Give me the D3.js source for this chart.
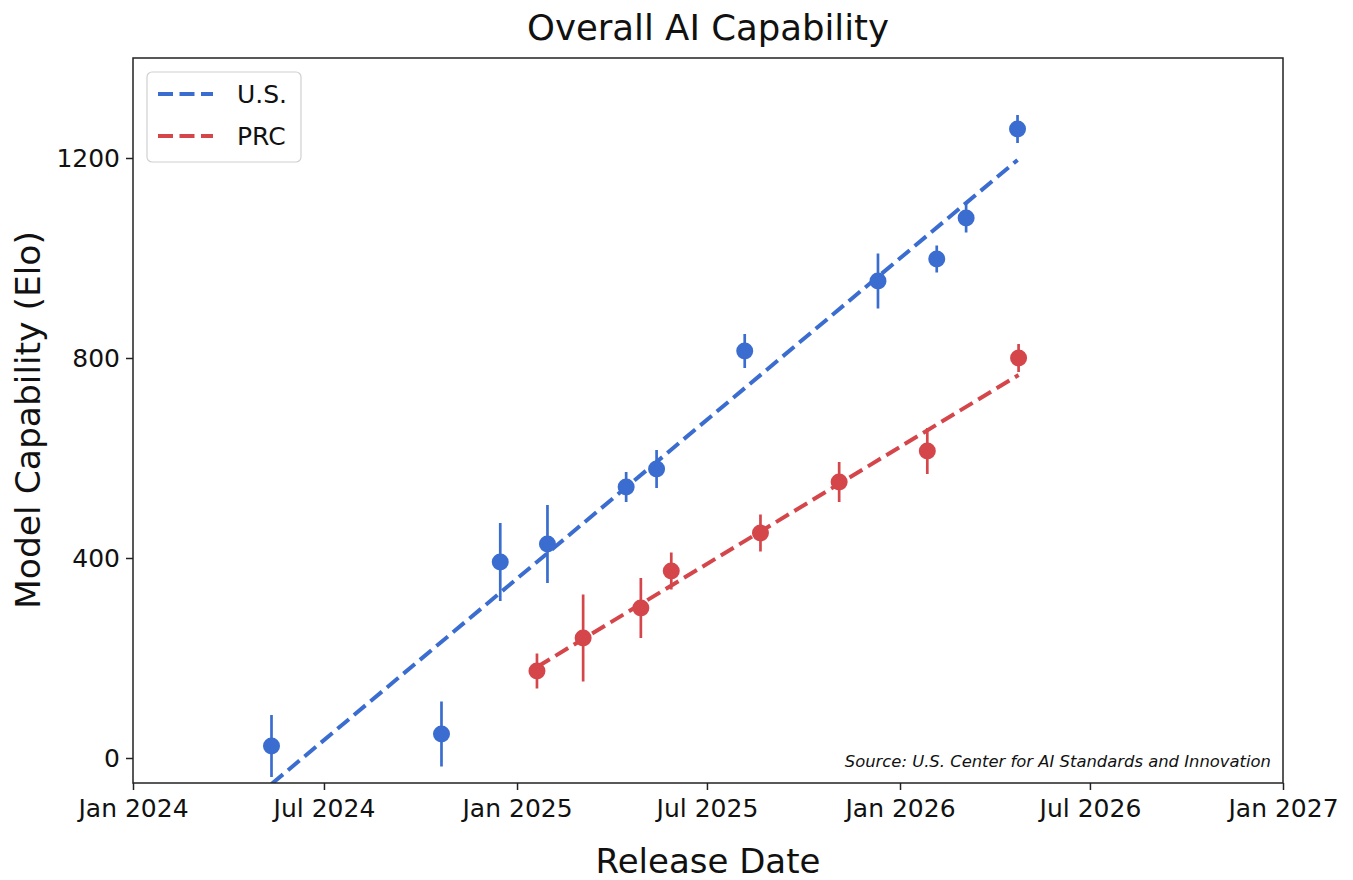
<!DOCTYPE html>
<html>
<head>
<meta charset="utf-8">
<script src="https://cdn.jsdelivr.net/npm/d3@7"></script>
<style>
  html, body { margin: 0; padding: 0; background: #fff; }
  svg { display: block; font-family: "DejaVu Sans", sans-serif; }
</style>
</head>
<body>
<svg id="chart" width="1353" height="880"></svg>
<script>
// U.S. models: release date, Elo estimate, half-width of the uncertainty bar
const usDates  = ["2024-05-12", "2024-10-21", "2024-12-16", "2025-01-30", "2025-04-15", "2025-05-14",
                  "2025-08-06", "2025-12-11", "2026-02-05", "2026-03-05", "2026-04-23"];
const usElo    = [24, 48, 392, 428, 542, 578, 814, 954, 998, 1080, 1258];
const usErr    = [62, 65, 78, 78, 30, 38, 34, 55, 27, 29, 28];

// PRC models
const prcDates = ["2025-01-20", "2025-03-05", "2025-04-29", "2025-05-28", "2025-08-21", "2025-11-04",
                  "2026-01-27", "2026-04-24"];
const prcElo   = [174, 240, 300, 374, 450, 552, 614, 800];
const prcErr   = [35, 87, 60, 37, 37, 40, 46, 28];

// Linear trend endpoints for each series
const usTrendDates  = ["2024-05-12", "2026-04-23"];
const usTrendElo    = [-52, 1196];
const prcTrendDates = ["2025-01-20", "2026-04-24"];
const prcTrendElo   = [182, 766];

// Axis ticks
const xTickDates  = ["2024-01-01", "2024-07-01", "2025-01-01", "2025-07-01", "2026-01-01", "2026-07-01", "2027-01-01"];
const xTickLabels = ["Jan 2024", "Jul 2024", "Jan 2025", "Jul 2025", "Jan 2026", "Jul 2026", "Jan 2027"];
const yTicks      = [0, 400, 800, 1200];

const seriesNames = ["U.S.", "PRC"];
const BLUE = "#3a6dcf";
const RED  = "#d5464b";

const parse = d3.utcParse("%Y-%m-%d");
const margin = { left: 133, right: 70, top: 58, bottom: 97 };
const W = 1353, H = 880;
const iw = W - margin.left - margin.right;
const ih = H - margin.top - margin.bottom;

const svg = d3.select("#chart");

const x = d3.scaleUtc()
  .domain([parse("2024-01-01"), parse("2027-01-01")])
  .range([0, iw]);
const y = d3.scaleLinear()
  .domain([-50, 1400])
  .range([ih, 0]);

const g = svg.append("g").attr("transform", `translate(${margin.left},${margin.top})`);

svg.append("defs").append("clipPath").attr("id", "plotClip")
  .append("rect").attr("width", iw).attr("height", ih);

// Title
svg.append("text")
  .attr("x", 708).attr("y", 40)
  .attr("text-anchor", "middle")
  .attr("font-size", 35.5)
  .attr("fill", "#111")
  .text("Overall AI Capability");

// Axes
const xAxis = d3.axisBottom(x)
  .tickValues(xTickDates.map(parse))
  .tickFormat((d, i) => xTickLabels[i])
  .tickSizeOuter(0).tickSize(7).tickPadding(6);
const yAxis = d3.axisLeft(y)
  .tickValues(yTicks)
  .tickFormat(d3.format("d"))
  .tickSizeOuter(0).tickSize(7).tickPadding(6);

const gx = g.append("g").attr("transform", `translate(0,${ih})`).call(xAxis);
const gy = g.append("g").call(yAxis);
[gx, gy].forEach(a => {
  a.select(".domain").remove();
  a.selectAll(".tick line").attr("stroke", "#222").attr("stroke-width", 1.5);
  a.selectAll(".tick text").attr("font-size", 25).attr("fill", "#111")
    .attr("font-family", "DejaVu Sans, sans-serif");
});
gx.selectAll(".tick text").attr("dy", "0.85em");

// Axis titles
svg.append("text")
  .attr("x", 708).attr("y", 873)
  .attr("text-anchor", "middle")
  .attr("font-size", 34).attr("fill", "#111")
  .text("Release Date");
svg.append("text")
  .attr("transform", "translate(40,420) rotate(-90)")
  .attr("text-anchor", "middle")
  .attr("font-size", 34.5).attr("fill", "#111")
  .text("Model Capability (Elo)");

// Data layer
const plot = g.append("g").attr("clip-path", "url(#plotClip)");

function drawSeries(dates, vals, errs, tDates, tVals, color) {
  const pts = dates.map((d, i) => ({ date: parse(d), v: vals[i], e: errs[i] }));
  const trend = tDates.map((d, i) => ({ date: parse(d), v: tVals[i] }));

  plot.append("g").selectAll("line").data(pts).join("line")
    .attr("x1", d => x(d.date)).attr("x2", d => x(d.date))
    .attr("y1", d => y(d.v - d.e)).attr("y2", d => y(d.v + d.e))
    .attr("stroke", color).attr("stroke-width", 2.7);

  plot.append("path").datum(trend)
    .attr("d", d3.line().x(d => x(d.date)).y(d => y(d.v)))
    .attr("fill", "none").attr("stroke", color)
    .attr("stroke-width", 4).attr("stroke-dasharray", "15,6.5");

  plot.append("g").selectAll("circle").data(pts).join("circle")
    .attr("cx", d => x(d.date)).attr("cy", d => y(d.v))
    .attr("r", 8.5).attr("fill", color);
}

drawSeries(usDates, usElo, usErr, usTrendDates, usTrendElo, BLUE);
drawSeries(prcDates, prcElo, prcErr, prcTrendDates, prcTrendElo, RED);

// Frame
g.append("rect").attr("width", iw).attr("height", ih)
  .attr("fill", "none").attr("stroke", "#222").attr("stroke-width", 1.5);

// Source note
g.append("text")
  .attr("x", iw - 12).attr("y", ih - 16)
  .attr("text-anchor", "end")
  .attr("font-size", 16.4).attr("font-style", "italic").attr("fill", "#111")
  .text("Source: U.S. Center for AI Standards and Innovation");

// Legend
const legend = g.append("g").attr("transform", "translate(14,14)");
legend.append("rect")
  .attr("width", 154).attr("height", 90).attr("rx", 5)
  .attr("fill", "#fff").attr("stroke", "#d0d0d0").attr("stroke-width", 1.2);
[BLUE, RED].forEach((c, i) => {
  const row = legend.append("g").attr("transform", `translate(0,${22 + i * 42})`);
  row.append("line").attr("x1", 11).attr("x2", 66)
    .attr("stroke", c).attr("stroke-width", 4).attr("stroke-dasharray", "15,6.5");
  row.append("text").attr("x", 90).attr("y", 0).attr("dy", "0.35em")
    .attr("font-size", 25).attr("fill", "#111")
    .text(seriesNames[i]);
});
</script>
</body>
</html>
